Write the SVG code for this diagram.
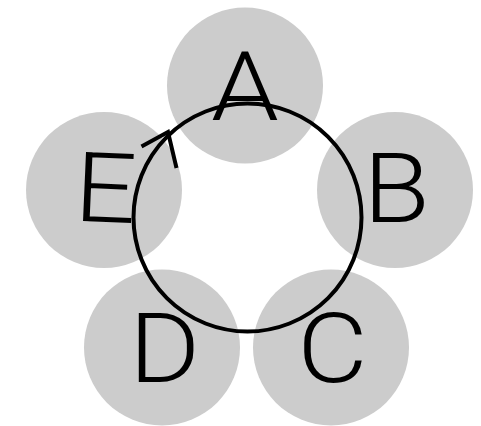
<svg xmlns="http://www.w3.org/2000/svg" width="481" height="426" viewBox="0 0 481 426">
  <style>
    .bg { fill: #cccccc; }
    .lbl { font-family: Roboto, "Liberation Sans", Arial, sans-serif; font-weight: 300; font-size: 97px; fill: #000000; text-anchor: middle; }
    .ring { fill: none; stroke: #000000; stroke-width: 4; }
  </style>
  <rect width="481" height="426" fill="#ffffff"/>
  <g id="node-A">
    <circle class="bg" cx="245" cy="85.5" r="78"/>
    <text class="lbl" transform="translate(245 120) scale(1.12 1)">A</text>
  </g>
  <g id="node-B">
    <circle class="bg" cx="395" cy="190" r="78"/>
    <text class="lbl" transform="translate(396.5 222) scale(1.12 1)">B</text>
  </g>
  <g id="node-C">
    <circle class="bg" cx="331" cy="347.5" r="78"/>
    <text class="lbl" transform="translate(332.5 382) scale(1.12 1)">C</text>
  </g>
  <g id="node-D">
    <circle class="bg" cx="162" cy="347.5" r="78"/>
    <text class="lbl" transform="translate(164.5 382) scale(1.12 1)">D</text>
  </g>
  <g id="node-E">
    <circle class="bg" cx="104" cy="190" r="78"/>
    <text class="lbl" transform="rotate(2.5 105.5 190) translate(105.5 222) scale(1.12 1)">E</text>
  </g>
  <g id="connectors">
    <circle class="ring" cx="247.5" cy="217.5" r="114"/>
    <polyline class="ring" points="141.5,146.5 168,132 176.5,168" stroke-linejoin="miter"/>
  </g>
</svg>
